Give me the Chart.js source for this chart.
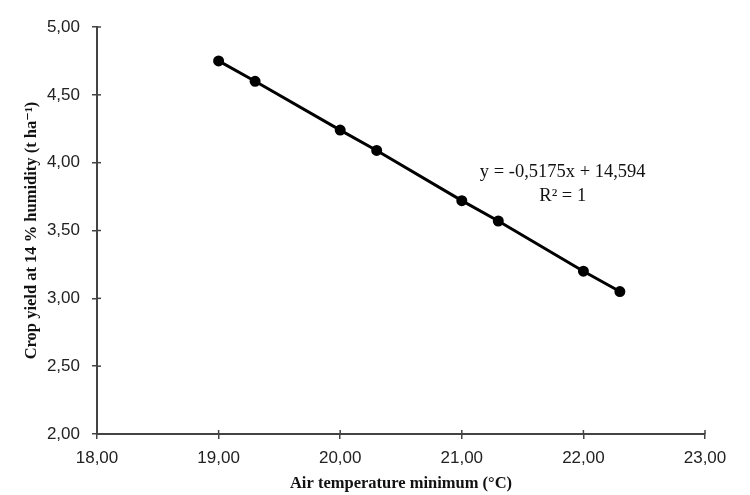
<!DOCTYPE html>
<html>
<head>
<meta charset="utf-8">
<script src="https://cdn.jsdelivr.net/npm/chart.js@4.4.1/dist/chart.umd.min.js"></script>
<style>
  html, body { margin: 0; padding: 0; background: #fff; }
  #wrap { width: 750px; height: 495px; }
</style>
</head>
<body>
<div id="wrap"><canvas id="myChart" width="750" height="495"></canvas></div>
<script>
// air temperature minimum (°C) and crop yield (t/ha)
const airTemp = [19.0, 19.3, 20.0, 20.3, 21.0, 21.3, 22.0, 22.3];
const cropYield = [4.75, 4.60, 4.24, 4.09, 3.72, 3.57, 3.20, 3.05];
const equationText = ['y = -0,5175x + 14,594', 'R² = 1'];

const comma = v => Number(v).toFixed(2).replace('.', ',');

// small tick marks that poke into the plot area, plus the equation text
const extras = {
    id: 'extras',
    afterDraw(chart) {
        const ctx = chart.ctx;
        const xs = chart.scales.x, ys = chart.scales.y;
        ctx.save();
        ctx.strokeStyle = '#444';
        ctx.lineWidth = 1.5;
        xs.ticks.forEach(t => {
            const px = xs.getPixelForValue(t.value);
            ctx.beginPath();
            ctx.moveTo(px, ys.bottom);
            ctx.lineTo(px, ys.bottom - 4);
            ctx.stroke();
        });
        ys.ticks.forEach(t => {
            const py = ys.getPixelForValue(t.value);
            ctx.beginPath();
            ctx.moveTo(xs.left, py);
            ctx.lineTo(xs.left + 4, py);
            ctx.stroke();
        });
        ctx.fillStyle = '#111';
        ctx.font = '18.5px "Liberation Serif", "DejaVu Serif", serif';
        ctx.textAlign = 'center';
        ctx.textBaseline = 'middle';
        const cx = xs.getPixelForValue(21.83);
        ctx.fillText(equationText[0], cx, ys.getPixelForValue(3.93));
        ctx.fillText(equationText[1], cx, ys.getPixelForValue(3.75));
        ctx.restore();
    }
};

new Chart(document.getElementById('myChart').getContext('2d'), {
    type: 'scatter',
    data: {
        datasets: [{
            data: airTemp.map((x, i) => ({ x: x, y: cropYield[i] })),
            showLine: true,
            borderColor: '#000',
            backgroundColor: '#000',
            borderWidth: 3,
            pointRadius: 4,
            pointHoverRadius: 4
        }]
    },
    options: {
        responsive: false,
        animation: false,
        layout: { padding: { left: 0, right: 45, top: 27, bottom: 0 } },
        plugins: {
            legend: { display: false },
            tooltip: { enabled: false }
        },
        scales: {
            x: {
                type: 'linear',
                min: 18,
                max: 23,
                afterFit: s => { s.height = 61; },
                ticks: {
                    stepSize: 1,
                    padding: 9,
                    color: '#222',
                    font: { family: '"Liberation Sans", Arial, sans-serif', size: 17 },
                    callback: v => comma(v)
                },
                grid: { drawOnChartArea: false, tickLength: 5, color: '#444', lineWidth: 1.5 },
                border: { color: '#444', width: 2 },
                title: {
                    display: true,
                    text: 'Air temperature minimum (°C)',
                    color: '#111',
                    padding: { top: 0, bottom: 1 },
                    font: { family: '"Liberation Serif", "DejaVu Serif", serif', size: 16.5, weight: 'bold' }
                }
            },
            y: {
                min: 2,
                max: 5,
                afterFit: s => { s.width = 97; },
                ticks: {
                    stepSize: 0.5,
                    padding: 12,
                    color: '#222',
                    font: { family: '"Liberation Sans", Arial, sans-serif', size: 17 },
                    callback: v => comma(v)
                },
                grid: { drawOnChartArea: false, tickLength: 5, color: '#444', lineWidth: 1.5 },
                border: { color: '#444', width: 2 },
                title: {
                    display: true,
                    text: 'Crop yield at 14 % humidity (t ha⁻¹)',
                    color: '#111',
                    padding: { top: 22, bottom: 0 },
                    font: { family: '"Liberation Serif", "DejaVu Serif", serif', size: 16.5, weight: 'bold' }
                }
            }
        }
    },
    plugins: [extras]
});
</script>
</body>
</html>
